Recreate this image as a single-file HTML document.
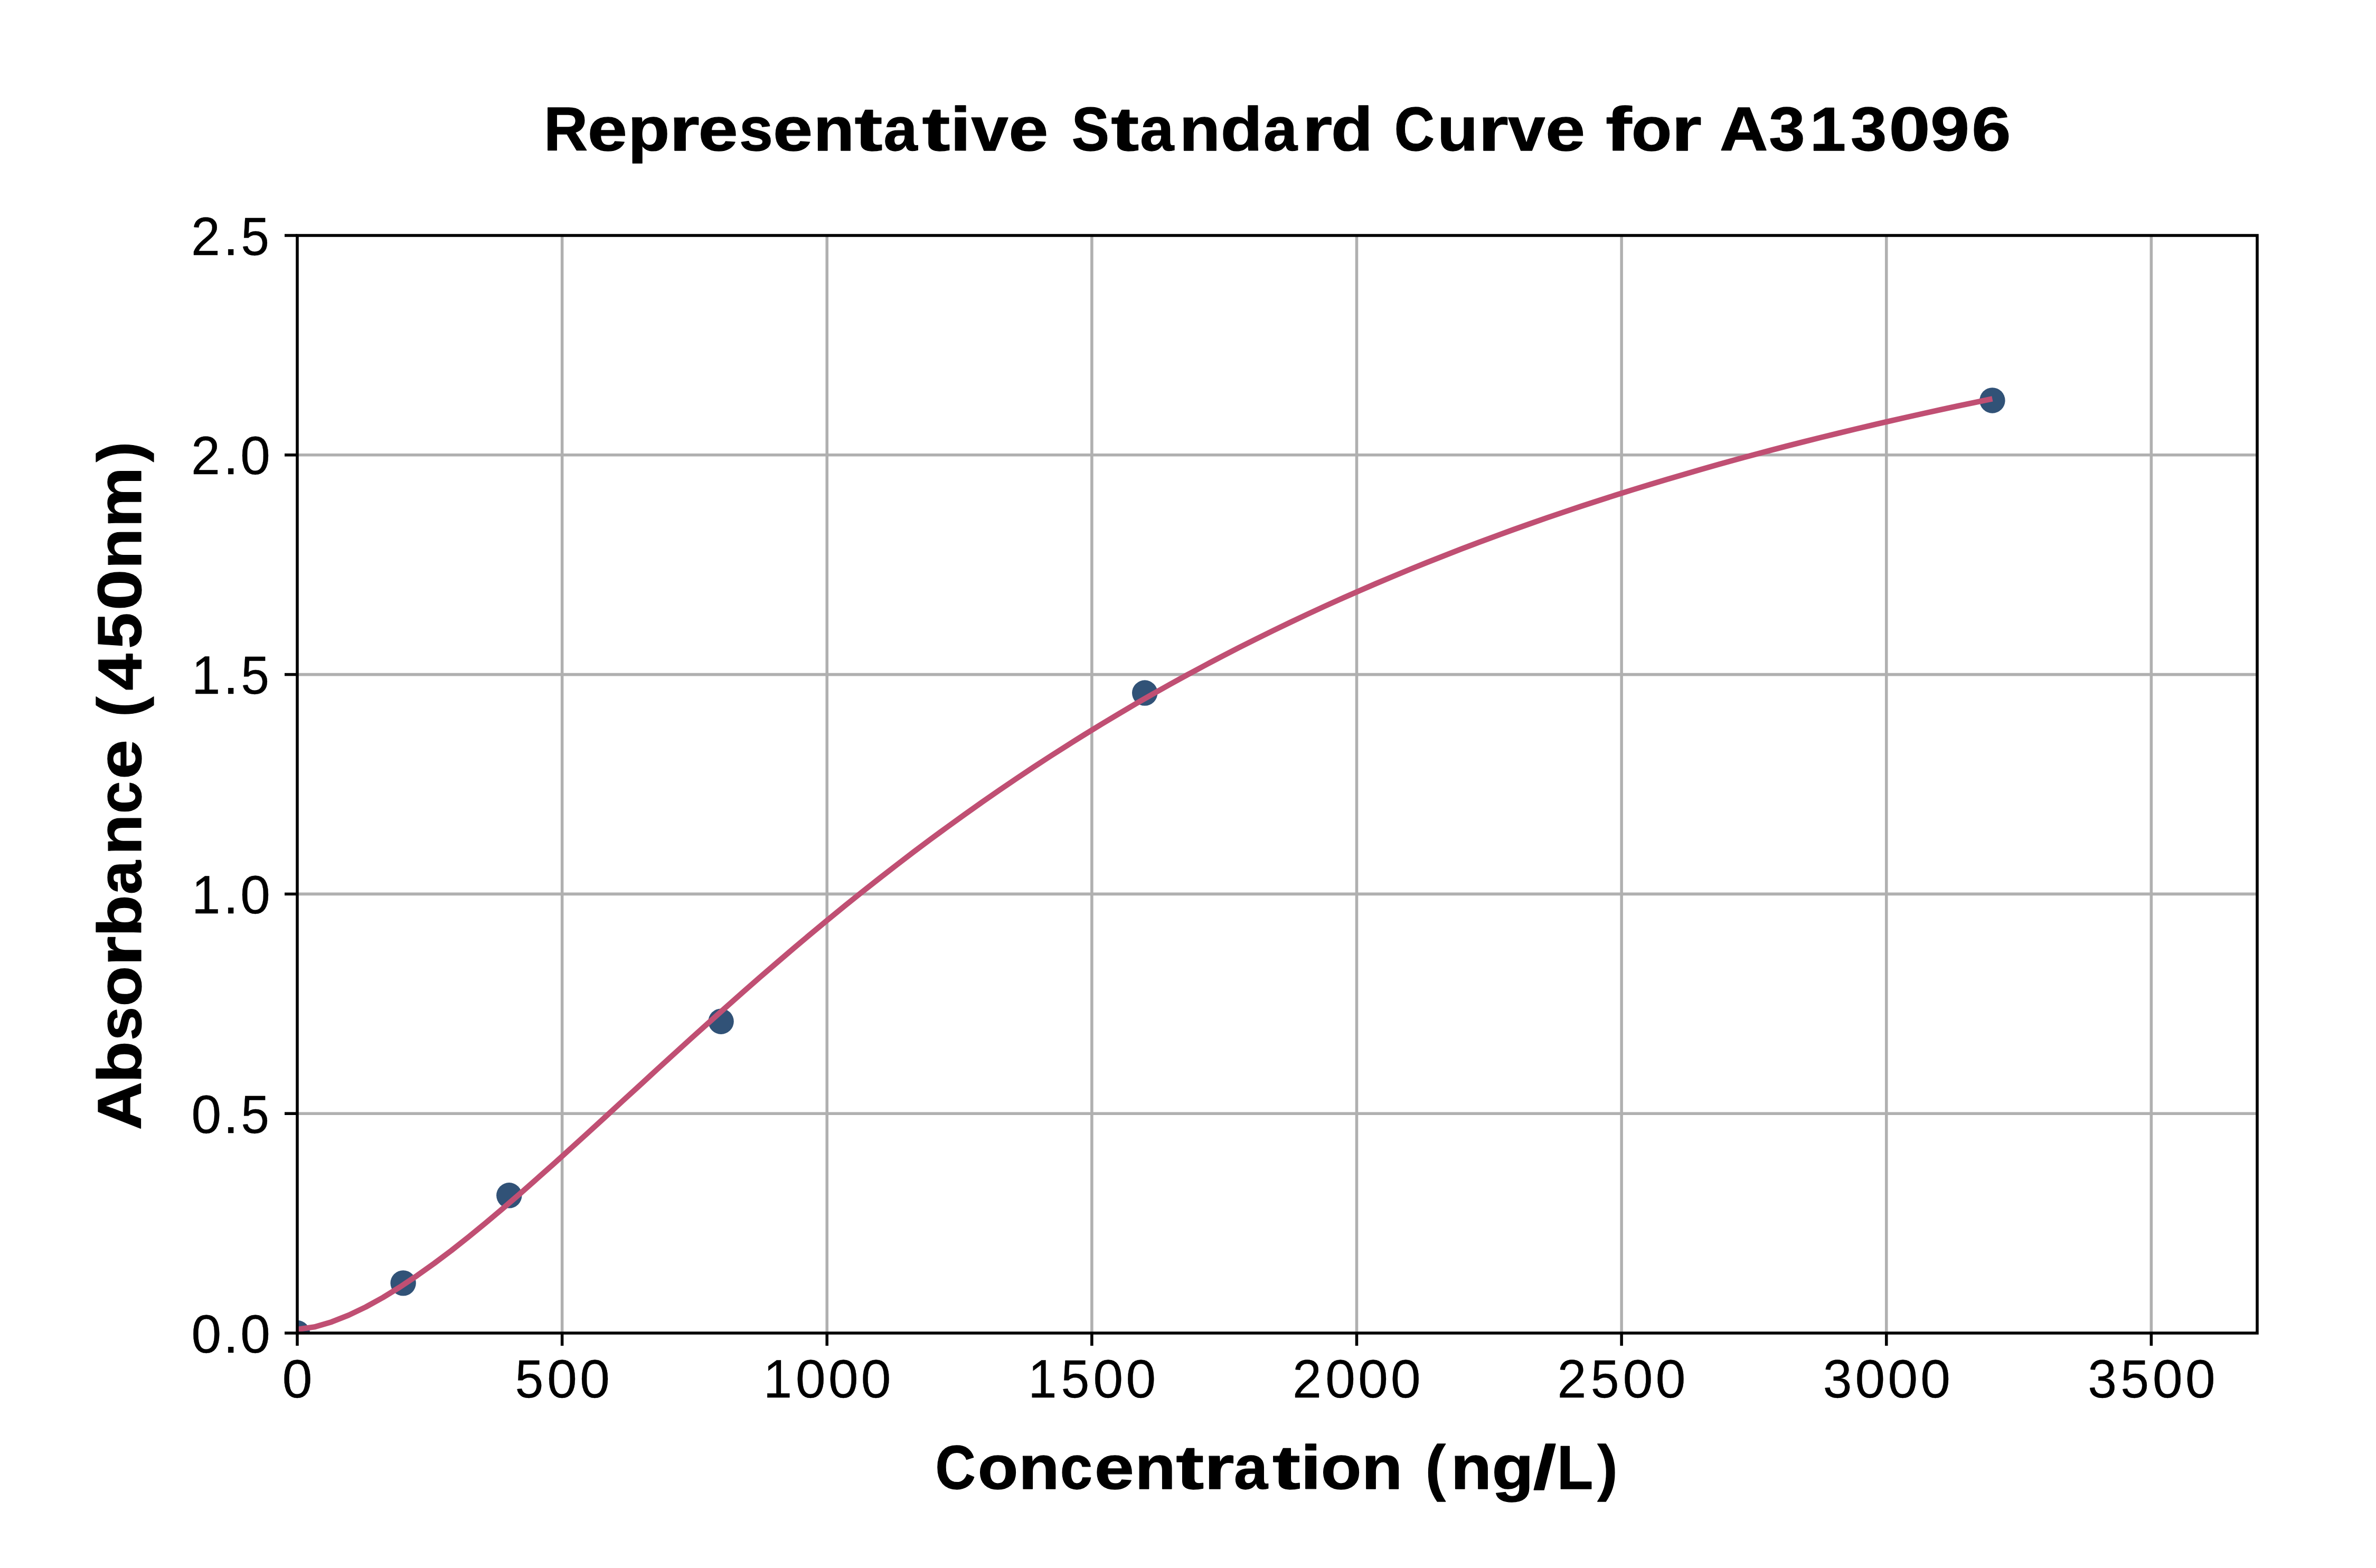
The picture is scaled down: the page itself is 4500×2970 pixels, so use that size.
<!DOCTYPE html>
<html><head><meta charset="utf-8"><title>Representative Standard Curve for A313096</title><style>
html,body{margin:0;padding:0;background:#fff;width:4500px;height:2970px;overflow:hidden;}
svg{display:block;}
text{font-family:"Liberation Sans",sans-serif;fill:#000;}
</style></head><body>
<svg width="4500" height="2970" viewBox="0 0 4500 2970">
<rect x="0" y="0" width="4500" height="2970" fill="#ffffff"/>
<defs><clipPath id="ax"><rect x="563" y="446" width="3712" height="2079"/></clipPath></defs>
<g stroke="#b0b0b0" stroke-width="5.56"><line x1="1064.62" y1="446" x2="1064.62" y2="2525"/><line x1="1566.24" y1="446" x2="1566.24" y2="2525"/><line x1="2067.86" y1="446" x2="2067.86" y2="2525"/><line x1="2569.49" y1="446" x2="2569.49" y2="2525"/><line x1="3071.11" y1="446" x2="3071.11" y2="2525"/><line x1="3572.73" y1="446" x2="3572.73" y2="2525"/><line x1="4074.35" y1="446" x2="4074.35" y2="2525"/><line x1="563" y1="2109.20" x2="4275" y2="2109.20"/><line x1="563" y1="1693.40" x2="4275" y2="1693.40"/><line x1="563" y1="1277.60" x2="4275" y2="1277.60"/><line x1="563" y1="861.80" x2="4275" y2="861.80"/></g>
<g fill="#315277" clip-path="url(#ax)"><circle cx="563.00" cy="2525.00" r="24.2"/><circle cx="763.65" cy="2430.36" r="24.2"/><circle cx="964.30" cy="2264.29" r="24.2"/><circle cx="1365.59" cy="1934.73" r="24.2"/><circle cx="2168.19" cy="1312.53" r="24.2"/><circle cx="3773.38" cy="758.43" r="24.2"/></g>
<polyline clip-path="url(#ax)" fill="none" stroke="#c04f73" stroke-width="10.4" stroke-linejoin="round" stroke-linecap="butt" points="563.0,2518.0 595.4,2513.4 627.9,2503.9 660.3,2491.1 692.7,2475.6 725.1,2457.7 757.6,2437.8 790.0,2416.1 822.4,2393.0 854.9,2368.6 887.3,2343.0 919.7,2316.5 952.1,2289.2 984.6,2261.2 1017.0,2232.7 1049.4,2203.8 1081.8,2174.5 1114.3,2145.0 1146.7,2115.3 1179.1,2085.5 1211.6,2055.8 1244.0,2026.0 1276.4,1996.5 1308.8,1967.0 1341.3,1937.8 1373.7,1908.8 1406.1,1880.1 1438.6,1851.7 1471.0,1823.7 1503.4,1796.0 1535.8,1768.7 1568.3,1741.8 1600.7,1715.3 1633.1,1689.3 1665.6,1663.7 1698.0,1638.5 1730.4,1613.7 1762.8,1589.4 1795.3,1565.6 1827.7,1542.2 1860.1,1519.3 1892.6,1496.8 1925.0,1474.7 1957.4,1453.1 1989.8,1432.0 2022.3,1411.3 2054.7,1391.0 2087.1,1371.1 2119.5,1351.7 2152.0,1332.6 2184.4,1314.0 2216.8,1295.8 2249.3,1277.9 2281.7,1260.5 2314.1,1243.4 2346.5,1226.7 2379.0,1210.3 2411.4,1194.3 2443.8,1178.7 2476.3,1163.4 2508.7,1148.4 2541.1,1133.8 2573.5,1119.4 2606.0,1105.4 2638.4,1091.7 2670.8,1078.3 2703.3,1065.1 2735.7,1052.3 2768.1,1039.7 2800.5,1027.4 2833.0,1015.3 2865.4,1003.5 2897.8,992.0 2930.2,980.7 2962.7,969.6 2995.1,958.8 3027.5,948.2 3060.0,937.8 3092.4,927.6 3124.8,917.7 3157.2,907.9 3189.7,898.4 3222.1,889.0 3254.5,879.8 3287.0,870.8 3319.4,862.0 3351.8,853.4 3384.2,844.9 3416.7,836.6 3449.1,828.5 3481.5,820.6 3514.0,812.7 3546.4,805.1 3578.8,797.6 3611.2,790.2 3643.7,783.0 3676.1,775.9 3708.5,768.9 3741.0,762.1 3773.4,755.4"/>
<rect x="563" y="446" width="3712" height="2079" fill="none" stroke="#000" stroke-width="5.56" stroke-linejoin="miter"/>
<g stroke="#000" stroke-width="5.56"><line x1="563.00" y1="2525" x2="563.00" y2="2549"/><line x1="1064.62" y1="2525" x2="1064.62" y2="2549"/><line x1="1566.24" y1="2525" x2="1566.24" y2="2549"/><line x1="2067.86" y1="2525" x2="2067.86" y2="2549"/><line x1="2569.49" y1="2525" x2="2569.49" y2="2549"/><line x1="3071.11" y1="2525" x2="3071.11" y2="2549"/><line x1="3572.73" y1="2525" x2="3572.73" y2="2549"/><line x1="4074.35" y1="2525" x2="4074.35" y2="2549"/><line x1="539" y1="2525.00" x2="563" y2="2525.00"/><line x1="539" y1="2109.20" x2="563" y2="2109.20"/><line x1="539" y1="1693.40" x2="563" y2="1693.40"/><line x1="539" y1="1277.60" x2="563" y2="1277.60"/><line x1="539" y1="861.80" x2="563" y2="861.80"/><line x1="539" y1="446.00" x2="563" y2="446.00"/></g>
<text stroke="#000" stroke-width="0.33" stroke-linejoin="round" font-size="102.79" y="2646.61"><tspan x="534.46" textLength="57.04" lengthAdjust="spacingAndGlyphs">0</tspan></text>
<text stroke="#000" stroke-width="0.33" stroke-linejoin="round" font-size="102.79" y="2646.61"><tspan x="975.44" textLength="53.81" lengthAdjust="spacingAndGlyphs">5</tspan><tspan x="1036.08" textLength="57.04" lengthAdjust="spacingAndGlyphs">0</tspan><tspan x="1097.96" textLength="57.04" lengthAdjust="spacingAndGlyphs">0</tspan></text>
<text stroke="#000" stroke-width="0.33" stroke-linejoin="round" font-size="102.79" y="2646.61"><tspan x="1445.72" textLength="54.46" lengthAdjust="spacingAndGlyphs">1</tspan><tspan x="1506.77" textLength="57.04" lengthAdjust="spacingAndGlyphs">0</tspan><tspan x="1568.64" textLength="57.04" lengthAdjust="spacingAndGlyphs">0</tspan><tspan x="1630.52" textLength="57.04" lengthAdjust="spacingAndGlyphs">0</tspan></text>
<text stroke="#000" stroke-width="0.33" stroke-linejoin="round" font-size="102.79" y="2646.61"><tspan x="1947.34" textLength="54.46" lengthAdjust="spacingAndGlyphs">1</tspan><tspan x="2009.62" textLength="53.81" lengthAdjust="spacingAndGlyphs">5</tspan><tspan x="2070.26" textLength="57.04" lengthAdjust="spacingAndGlyphs">0</tspan><tspan x="2132.14" textLength="57.04" lengthAdjust="spacingAndGlyphs">0</tspan></text>
<text stroke="#000" stroke-width="0.33" stroke-linejoin="round" font-size="102.79" y="2646.61"><tspan x="2447.89" textLength="54.95" lengthAdjust="spacingAndGlyphs">2</tspan><tspan x="2510.01" textLength="57.04" lengthAdjust="spacingAndGlyphs">0</tspan><tspan x="2571.88" textLength="57.04" lengthAdjust="spacingAndGlyphs">0</tspan><tspan x="2633.76" textLength="57.04" lengthAdjust="spacingAndGlyphs">0</tspan></text>
<text stroke="#000" stroke-width="0.33" stroke-linejoin="round" font-size="102.79" y="2646.61"><tspan x="2949.51" textLength="54.95" lengthAdjust="spacingAndGlyphs">2</tspan><tspan x="3012.86" textLength="53.81" lengthAdjust="spacingAndGlyphs">5</tspan><tspan x="3073.51" textLength="57.04" lengthAdjust="spacingAndGlyphs">0</tspan><tspan x="3135.38" textLength="57.04" lengthAdjust="spacingAndGlyphs">0</tspan></text>
<text stroke="#000" stroke-width="0.33" stroke-linejoin="round" font-size="102.79" y="2646.61"><tspan x="3452.69" textLength="54.78" lengthAdjust="spacingAndGlyphs">3</tspan><tspan x="3513.32" textLength="57.04" lengthAdjust="spacingAndGlyphs">0</tspan><tspan x="3575.19" textLength="57.04" lengthAdjust="spacingAndGlyphs">0</tspan><tspan x="3637.07" textLength="57.04" lengthAdjust="spacingAndGlyphs">0</tspan></text>
<text stroke="#000" stroke-width="0.33" stroke-linejoin="round" font-size="102.79" y="2646.61"><tspan x="3954.31" textLength="54.78" lengthAdjust="spacingAndGlyphs">3</tspan><tspan x="4016.17" textLength="53.81" lengthAdjust="spacingAndGlyphs">5</tspan><tspan x="4076.81" textLength="57.04" lengthAdjust="spacingAndGlyphs">0</tspan><tspan x="4138.69" textLength="57.04" lengthAdjust="spacingAndGlyphs">0</tspan></text>
<text font-weight="bold" stroke="#000" stroke-width="1.3" stroke-linejoin="round" font-size="117.62" y="2820.06"><tspan x="1771.52" textLength="76.13" lengthAdjust="spacingAndGlyphs">C</tspan><tspan x="1851.74" textLength="76.58" lengthAdjust="spacingAndGlyphs">o</tspan><tspan x="1929.20" textLength="77.28" lengthAdjust="spacingAndGlyphs">n</tspan><tspan x="2007.80" textLength="61.18" lengthAdjust="spacingAndGlyphs">c</tspan><tspan x="2072.69" textLength="75.12" lengthAdjust="spacingAndGlyphs">e</tspan><tspan x="2149.55" textLength="77.28" lengthAdjust="spacingAndGlyphs">n</tspan><tspan x="2227.20" textLength="53.00" lengthAdjust="spacingAndGlyphs">t</tspan><tspan x="2280.47" textLength="57.02" lengthAdjust="spacingAndGlyphs">r</tspan><tspan x="2336.99" textLength="64.11" lengthAdjust="spacingAndGlyphs">a</tspan><tspan x="2410.10" textLength="53.00" lengthAdjust="spacingAndGlyphs">t</tspan><tspan x="2463.13" textLength="39.36" lengthAdjust="spacingAndGlyphs">i</tspan><tspan x="2501.68" textLength="76.58" lengthAdjust="spacingAndGlyphs">o</tspan><tspan x="2579.13" textLength="77.28" lengthAdjust="spacingAndGlyphs">n</tspan><tspan x="2657.25"> </tspan><tspan x="2699.78" textLength="38.16" lengthAdjust="spacingAndGlyphs">(</tspan><tspan x="2747.71" textLength="77.28" lengthAdjust="spacingAndGlyphs">n</tspan><tspan x="2825.51" textLength="79.21" lengthAdjust="spacingAndGlyphs">g</tspan><tspan x="2903.83" textLength="43.67" lengthAdjust="spacingAndGlyphs">/</tspan><tspan x="2948.66" textLength="68.52" lengthAdjust="spacingAndGlyphs">L</tspan><tspan x="3025.58" textLength="38.14" lengthAdjust="spacingAndGlyphs">)</tspan></text>
<text stroke="#000" stroke-width="0.33" stroke-linejoin="round" font-size="102.79" y="2561.50"><tspan x="362.16" textLength="57.04" lengthAdjust="spacingAndGlyphs">0</tspan><tspan x="422.43" textLength="29.23" lengthAdjust="spacingAndGlyphs">.</tspan><tspan x="454.94" textLength="57.04" lengthAdjust="spacingAndGlyphs">0</tspan></text>
<text stroke="#000" stroke-width="0.33" stroke-linejoin="round" font-size="102.79" y="2145.70"><tspan x="362.16" textLength="57.04" lengthAdjust="spacingAndGlyphs">0</tspan><tspan x="422.43" textLength="29.23" lengthAdjust="spacingAndGlyphs">.</tspan><tspan x="456.18" textLength="53.81" lengthAdjust="spacingAndGlyphs">5</tspan></text>
<text stroke="#000" stroke-width="0.33" stroke-linejoin="round" font-size="102.79" y="1729.90"><tspan x="362.99" textLength="54.46" lengthAdjust="spacingAndGlyphs">1</tspan><tspan x="422.43" textLength="29.23" lengthAdjust="spacingAndGlyphs">.</tspan><tspan x="454.94" textLength="57.04" lengthAdjust="spacingAndGlyphs">0</tspan></text>
<text stroke="#000" stroke-width="0.33" stroke-linejoin="round" font-size="102.79" y="1314.10"><tspan x="362.99" textLength="54.46" lengthAdjust="spacingAndGlyphs">1</tspan><tspan x="422.43" textLength="29.23" lengthAdjust="spacingAndGlyphs">.</tspan><tspan x="456.18" textLength="53.81" lengthAdjust="spacingAndGlyphs">5</tspan></text>
<text stroke="#000" stroke-width="0.33" stroke-linejoin="round" font-size="102.79" y="898.30"><tspan x="361.92" textLength="54.95" lengthAdjust="spacingAndGlyphs">2</tspan><tspan x="422.43" textLength="29.23" lengthAdjust="spacingAndGlyphs">.</tspan><tspan x="454.94" textLength="57.04" lengthAdjust="spacingAndGlyphs">0</tspan></text>
<text stroke="#000" stroke-width="0.33" stroke-linejoin="round" font-size="102.79" y="482.50"><tspan x="361.92" textLength="54.95" lengthAdjust="spacingAndGlyphs">2</tspan><tspan x="422.43" textLength="29.23" lengthAdjust="spacingAndGlyphs">.</tspan><tspan x="456.18" textLength="53.81" lengthAdjust="spacingAndGlyphs">5</tspan></text>
<text font-weight="bold" stroke="#000" stroke-width="1.3" stroke-linejoin="round" font-size="117.62" y="0" transform="translate(267.32,2137.94) rotate(-90)"><tspan x="-2.61" textLength="91.40" lengthAdjust="spacingAndGlyphs">A</tspan><tspan x="86.80" textLength="79.05" lengthAdjust="spacingAndGlyphs">b</tspan><tspan x="167.25" textLength="63.88" lengthAdjust="spacingAndGlyphs">s</tspan><tspan x="231.57" textLength="76.58" lengthAdjust="spacingAndGlyphs">o</tspan><tspan x="307.71" textLength="57.02" lengthAdjust="spacingAndGlyphs">r</tspan><tspan x="363.63" textLength="79.05" lengthAdjust="spacingAndGlyphs">b</tspan><tspan x="443.77" textLength="64.11" lengthAdjust="spacingAndGlyphs">a</tspan><tspan x="518.35" textLength="77.28" lengthAdjust="spacingAndGlyphs">n</tspan><tspan x="596.95" textLength="61.18" lengthAdjust="spacingAndGlyphs">c</tspan><tspan x="661.85" textLength="75.12" lengthAdjust="spacingAndGlyphs">e</tspan><tspan x="737.72"> </tspan><tspan x="780.25" textLength="38.16" lengthAdjust="spacingAndGlyphs">(</tspan><tspan x="830.29" textLength="69.80" lengthAdjust="spacingAndGlyphs">4</tspan><tspan x="909.32" textLength="68.18" lengthAdjust="spacingAndGlyphs">5</tspan><tspan x="981.61" textLength="77.99" lengthAdjust="spacingAndGlyphs">0</tspan><tspan x="1060.16" textLength="77.28" lengthAdjust="spacingAndGlyphs">n</tspan><tspan x="1139.04" textLength="114.20" lengthAdjust="spacingAndGlyphs">m</tspan><tspan x="1262.88" textLength="38.14" lengthAdjust="spacingAndGlyphs">)</tspan></text>
<text font-weight="bold" stroke="#000" stroke-width="1.3" stroke-linejoin="round" font-size="117.62" y="285.31"><tspan x="1030.11" textLength="83.22" lengthAdjust="spacingAndGlyphs">R</tspan><tspan x="1112.69" textLength="75.12" lengthAdjust="spacingAndGlyphs">e</tspan><tspan x="1189.36" textLength="79.05" lengthAdjust="spacingAndGlyphs">p</tspan><tspan x="1267.78" textLength="57.02" lengthAdjust="spacingAndGlyphs">r</tspan><tspan x="1322.41" textLength="75.12" lengthAdjust="spacingAndGlyphs">e</tspan><tspan x="1399.99" textLength="63.88" lengthAdjust="spacingAndGlyphs">s</tspan><tspan x="1463.93" textLength="75.12" lengthAdjust="spacingAndGlyphs">e</tspan><tspan x="1540.79" textLength="77.28" lengthAdjust="spacingAndGlyphs">n</tspan><tspan x="1618.43" textLength="53.00" lengthAdjust="spacingAndGlyphs">t</tspan><tspan x="1673.43" textLength="64.11" lengthAdjust="spacingAndGlyphs">a</tspan><tspan x="1746.54" textLength="53.00" lengthAdjust="spacingAndGlyphs">t</tspan><tspan x="1799.57" textLength="39.36" lengthAdjust="spacingAndGlyphs">i</tspan><tspan x="1839.44" textLength="70.16" lengthAdjust="spacingAndGlyphs">v</tspan><tspan x="1910.18" textLength="75.12" lengthAdjust="spacingAndGlyphs">e</tspan><tspan x="1986.05"> </tspan><tspan x="2029.64" textLength="71.15" lengthAdjust="spacingAndGlyphs">S</tspan><tspan x="2104.29" textLength="53.00" lengthAdjust="spacingAndGlyphs">t</tspan><tspan x="2159.29" textLength="64.11" lengthAdjust="spacingAndGlyphs">a</tspan><tspan x="2233.87" textLength="77.28" lengthAdjust="spacingAndGlyphs">n</tspan><tspan x="2311.67" textLength="79.07" lengthAdjust="spacingAndGlyphs">d</tspan><tspan x="2392.93" textLength="64.11" lengthAdjust="spacingAndGlyphs">a</tspan><tspan x="2466.19" textLength="57.02" lengthAdjust="spacingAndGlyphs">r</tspan><tspan x="2521.00" textLength="79.07" lengthAdjust="spacingAndGlyphs">d</tspan><tspan x="2600.86"> </tspan><tspan x="2640.75" textLength="76.13" lengthAdjust="spacingAndGlyphs">C</tspan><tspan x="2721.93" textLength="77.29" lengthAdjust="spacingAndGlyphs">u</tspan><tspan x="2799.88" textLength="57.02" lengthAdjust="spacingAndGlyphs">r</tspan><tspan x="2856.20" textLength="70.16" lengthAdjust="spacingAndGlyphs">v</tspan><tspan x="2926.94" textLength="75.12" lengthAdjust="spacingAndGlyphs">e</tspan><tspan x="3002.81"> </tspan><tspan x="3041.06" textLength="49.47" lengthAdjust="spacingAndGlyphs">f</tspan><tspan x="3089.73" textLength="76.58" lengthAdjust="spacingAndGlyphs">o</tspan><tspan x="3165.86" textLength="57.02" lengthAdjust="spacingAndGlyphs">r</tspan><tspan x="3220.98"> </tspan><tspan x="3257.06" textLength="91.40" lengthAdjust="spacingAndGlyphs">A</tspan><tspan x="3350.29" textLength="68.30" lengthAdjust="spacingAndGlyphs">3</tspan><tspan x="3427.80" textLength="68.29" lengthAdjust="spacingAndGlyphs">1</tspan><tspan x="3504.94" textLength="68.30" lengthAdjust="spacingAndGlyphs">3</tspan><tspan x="3577.42" textLength="77.99" lengthAdjust="spacingAndGlyphs">0</tspan><tspan x="3656.12" textLength="74.03" lengthAdjust="spacingAndGlyphs">9</tspan><tspan x="3734.31" textLength="74.17" lengthAdjust="spacingAndGlyphs">6</tspan></text>
</svg></body></html>
